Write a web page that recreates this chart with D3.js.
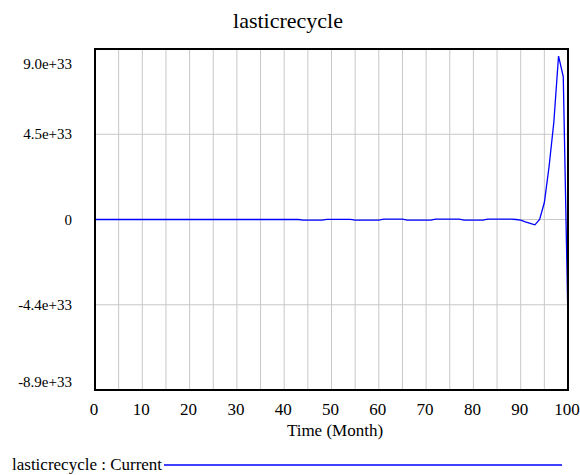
<!DOCTYPE html>
<html>
<head>
<meta charset="utf-8">
<script src="https://cdn.jsdelivr.net/npm/d3@7"></script>
<style>
  body { margin: 0; background: #fff; }
</style>
</head>
<body>
<svg id="chart"></svg>
<script>
// chart data (values in units of 1e33)
const title = "lasticrecycle";
const xLabel = "Time (Month)";
const legendLabel = "lasticrecycle : Current";
const months = d3.range(0, 101);
const current = [
  0, 0, 0, 0, 0, 0, 0, 0, 0, 0,
  0, 0, 0, 0, 0, 0, 0, 0, 0, 0,
  0, 0, 0, 0, 0, 0, 0, 0, 0, 0,
  0, 0, 0, 0, 0, 0, 0, 0, 0, 0,
  0, 0, 0, 0, -0.03, -0.03, -0.03, -0.03, -0.03, 0.01,
  0.01, 0.01, 0.01, 0.01, 0.01, -0.03, -0.03, -0.03, -0.03, -0.03,
  -0.03, 0.02, 0.02, 0.02, 0.02, 0.02, -0.03, -0.03, -0.03, -0.03,
  -0.03, -0.03, 0.02, 0.02, 0.02, 0.02, 0.02, 0.02, -0.03, -0.03,
  -0.03, -0.03, -0.03, 0.02, 0.02, 0.02, 0.02, 0.02, 0.02, 0.0,
  -0.03, -0.12, -0.2, -0.28, 0.0, 0.89, 2.78, 5.09, 8.58, 7.5,
  -5.43
];
const xTicks = [0, 10, 20, 30, 40, 50, 60, 70, 80, 90, 100];
const xGrid = [5, 10, 15, 20, 25, 30, 35, 40, 45, 50, 55, 60, 65, 70, 75, 80, 85, 90, 95];
const yTickValues = [8.95, 4.475, 0, -4.475, -8.95];
const yTickLabels = ["9.0e+33", "4.5e+33", "0", "-4.4e+33", "-8.9e+33"];

const width = 580;
const height = 475;
const margin = { top: 49, right: 12, bottom: 85, left: 95 };
const serif = "\"Liberation Serif\"";

const svg = d3.select("#chart")
  .attr("width", width)
  .attr("height", height);

const x = d3.scaleLinear().domain([0, 100]).range([margin.left, width - margin.right]);
const y = d3.scaleLinear().domain([-8.95, 8.95]).range([height - margin.bottom, margin.top]);

// title
svg.append("text")
  .attr("x", 288)
  .attr("y", 28)
  .attr("text-anchor", "middle")
  .style("font-family", serif)
  .style("font-size", "22px")
  .text(title);

// vertical grid lines
svg.append("g")
  .selectAll("line")
  .data(xGrid)
  .enter()
  .append("line")
  .attr("x1", d => x(d)).attr("x2", d => x(d))
  .attr("y1", y(8.95)).attr("y2", y(-8.95))
  .attr("stroke", "#c8c8c8")
  .attr("stroke-width", 1);

// horizontal grid lines
svg.append("g")
  .selectAll("line")
  .data(yTickValues.slice(1, -1))
  .enter()
  .append("line")
  .attr("x1", x(0)).attr("x2", x(100))
  .attr("y1", d => y(d)).attr("y2", d => y(d))
  .attr("stroke", "#c8c8c8")
  .attr("stroke-width", 1);

// y axis labels
svg.append("g")
  .selectAll("text")
  .data(yTickValues)
  .enter()
  .append("text")
  .attr("x", 72)
  .attr("y", d => y(d))
  .attr("dy", (d, i) => i === 0 ? 20 : (i === yTickValues.length - 1 ? -3 : 5))
  .attr("text-anchor", "end")
  .style("font-family", serif)
  .style("font-size", "15px")
  .text((d, i) => yTickLabels[i]);

// x axis labels
svg.append("g")
  .selectAll("text")
  .data(xTicks)
  .enter()
  .append("text")
  .attr("x", d => x(d) - 1)
  .attr("y", y(-8.95) + 25)
  .attr("text-anchor", "middle")
  .style("font-family", serif)
  .style("font-size", "17px")
  .text(d => d);

svg.append("text")
  .attr("x", 335)
  .attr("y", 436)
  .attr("text-anchor", "middle")
  .style("font-family", serif)
  .style("font-size", "17px")
  .text(xLabel);

// data line
const line = d3.line()
  .x((d, i) => x(months[i]))
  .y(d => y(d));

svg.append("path")
  .datum(current)
  .attr("fill", "none")
  .attr("stroke", "#0000ff")
  .attr("stroke-width", 1.3)
  .attr("d", line);

// plot border
svg.append("rect")
  .attr("x", x(0))
  .attr("y", y(8.95))
  .attr("width", x(100) - x(0))
  .attr("height", y(-8.95) - y(8.95))
  .attr("fill", "none")
  .attr("stroke", "#000")
  .attr("stroke-width", 2);

// legend
svg.append("text")
  .attr("x", 12)
  .attr("y", 470)
  .style("font-family", serif)
  .style("font-size", "17px")
  .text(legendLabel);

svg.append("line")
  .attr("x1", 164).attr("x2", 562)
  .attr("y1", 465).attr("y2", 465)
  .attr("stroke", "#0000ff")
  .attr("stroke-width", 1.3);
</script>
</body>
</html>
